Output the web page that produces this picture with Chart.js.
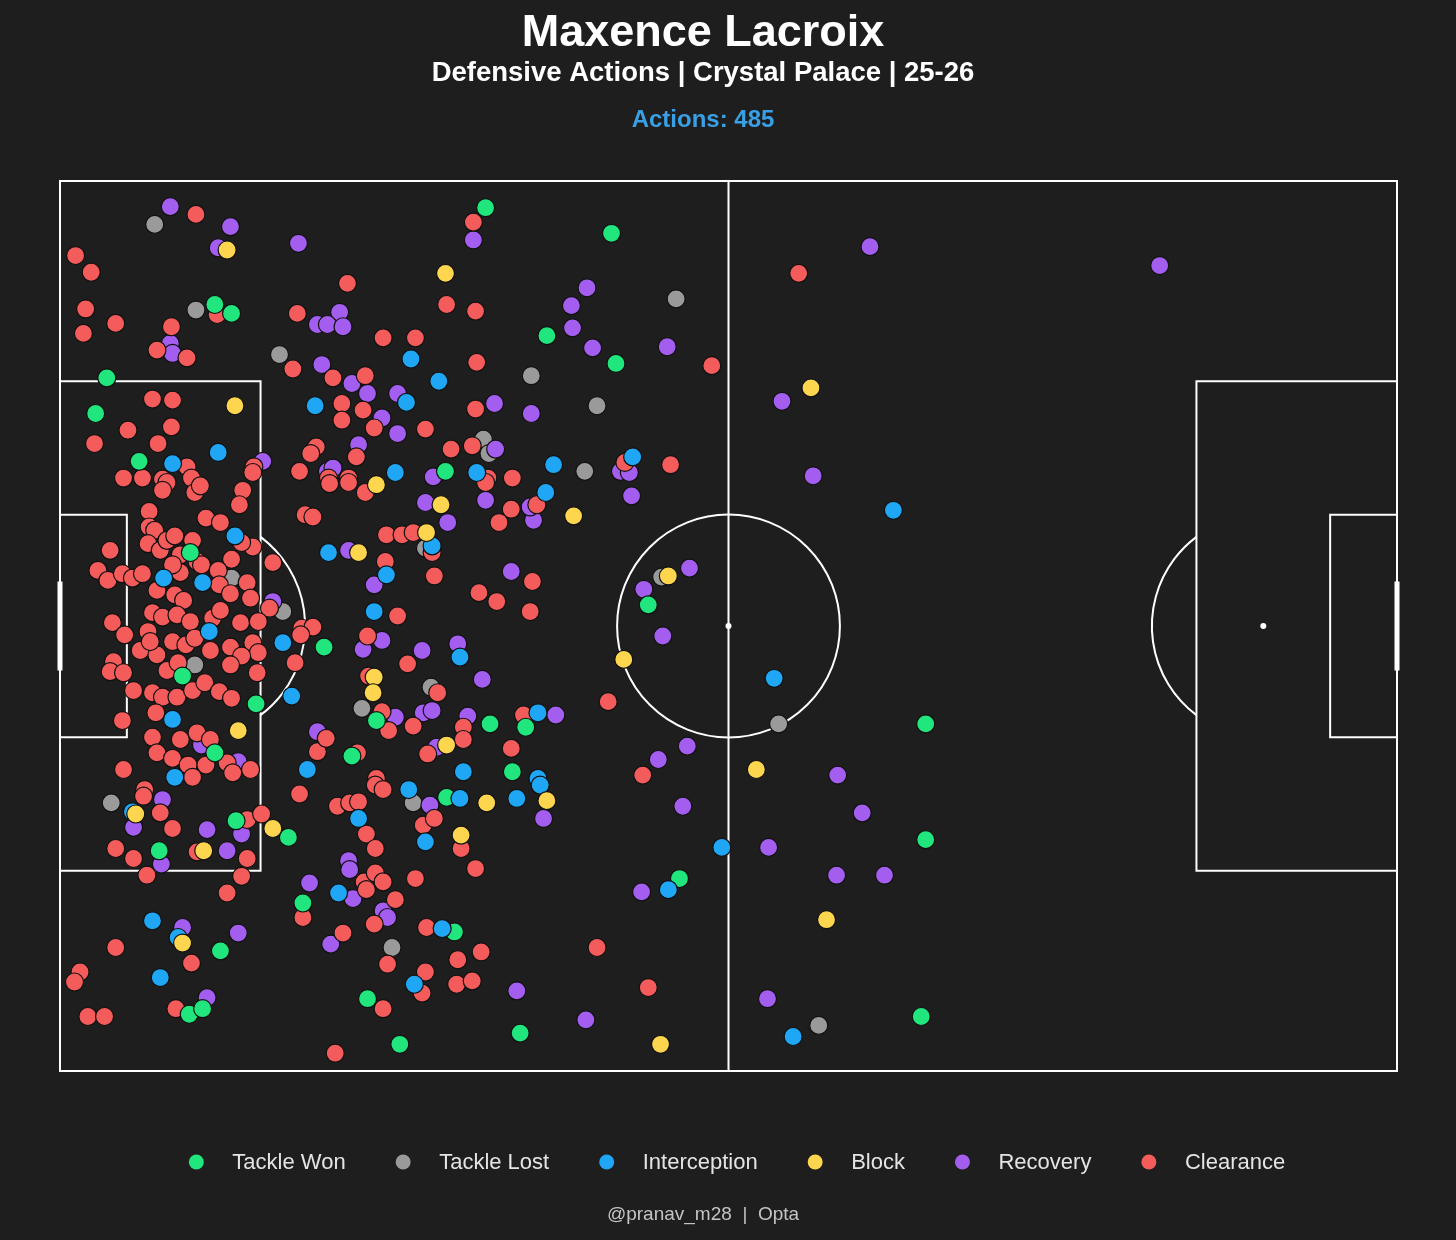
<!DOCTYPE html>
<html lang="en">
  <head>
    <meta charset="UTF-8" />
    <script src="https://cdn.jsdelivr.net/npm/chart.js"></script>
    <title>Maxence Lacroix - Defensive Actions</title>
    <style>
      body { margin: 0; background: #1e1e1e; }
      #pitch { display: block; }
    </style>
  </head>
  <body>
    <canvas id="pitch" width="1456" height="1240"></canvas>

    <script>
      // pitch is 120 x 80 (statsbomb style), y runs top -> bottom
      const tackleWon = [
        [13.9,11.1],[15.4,11.9],[4.2,17.7],[3.2,20.9],[7.1,25.2],[38.2,2.4],[49.5,4.7],[43.7,13.9],
        [49.9,16.4],[34.6,26.1],[11.7,33.4],[23.7,41.9],[11.0,44.5],[17.6,47.0],[13.9,51.4],[28.4,48.5],
        [38.6,48.8],[41.8,49.1],[40.6,53.1],[26.2,51.7],[52.8,38.1],[15.8,57.5],[20.5,59.0],[8.9,60.2],
        [21.8,64.9],[14.4,69.2],[11.6,74.9],[12.8,74.4],[27.6,73.5],[30.5,77.6],[34.7,55.4],[35.4,67.5],
        [55.6,62.7],[41.3,76.6],[77.7,48.8],[77.7,59.2],[77.3,75.1]
      ];
      const tackleLost = [
        [8.5,3.9],[12.2,11.6],[19.7,15.6],[55.3,10.6],[42.3,17.5],[48.2,20.2],[38.0,23.2],[38.5,24.5],
        [47.1,26.1],[15.4,35.7],[20.0,38.7],[12.1,43.5],[32.8,33.0],[54.0,35.6],[33.3,45.5],[27.1,47.4],
        [4.6,55.9],[31.7,55.9],[29.8,68.9],[64.5,48.8],[68.1,75.9]
      ];
      const interception = [
        [22.9,20.2],[14.2,24.4],[10.1,25.4],[30.1,26.2],[31.5,16.0],[34.0,18.0],[31.1,19.9],[44.3,25.5],
        [51.4,24.8],[37.4,26.2],[15.7,31.9],[9.3,35.7],[12.8,36.1],[13.4,40.5],[20.0,41.5],[20.8,46.3],
        [10.1,48.4],[10.3,53.6],[22.2,52.9],[43.6,28.0],[33.4,32.8],[24.1,33.4],[29.3,35.4],[28.2,38.7],
        [35.9,42.8],[42.9,47.8],[36.2,53.1],[42.9,53.7],[6.5,56.7],[26.8,57.3],[25.0,64.0],[8.3,66.5],
        [10.6,68.0],[9.0,71.6],[31.3,54.7],[35.9,55.5],[41.0,55.5],[43.1,54.3],[32.8,59.4],[34.3,67.2],
        [31.8,72.2],[54.6,63.7],[59.4,59.9],[74.8,29.6],[64.1,44.7],[65.8,76.9]
      ];
      const block = [
        [15.0,6.2],[34.6,8.3],[15.7,20.2],[28.4,27.3],[34.2,29.1],[46.1,30.1],[32.9,31.6],[26.8,33.4],
        [54.6,35.5],[50.6,43.0],[28.2,44.6],[28.1,46.0],[34.7,50.7],[16.0,49.4],[6.8,56.9],[19.1,58.2],
        [12.9,60.2],[11.0,68.5],[38.3,55.9],[43.7,55.7],[36.0,58.8],[53.9,77.6],[67.4,18.6],[62.5,52.9],
        [68.8,66.4]
      ];
      const recovery = [
        [9.9,2.3],[15.3,4.1],[14.2,6.0],[21.4,5.6],[9.9,14.6],[10.1,15.5],[25.1,11.8],[23.1,12.9],
        [24.0,12.9],[25.4,13.1],[23.5,16.5],[26.2,18.2],[27.6,19.1],[30.3,19.1],[28.9,21.3],[30.3,22.7],
        [26.8,23.7],[18.2,25.2],[24.0,26.1],[24.5,25.8],[37.1,5.3],[47.3,9.6],[45.9,11.2],[46.0,13.2],
        [47.8,15.0],[54.5,14.9],[39.0,20.0],[42.3,20.9],[39.1,24.1],[50.3,26.1],[51.1,26.2],[33.5,26.6],
        [19.1,37.8],[12.7,50.7],[16.0,52.2],[23.1,49.5],[51.3,28.3],[32.8,28.9],[34.8,30.7],[38.2,28.7],
        [42.5,30.5],[42.2,29.3],[25.9,33.2],[28.2,36.3],[40.5,35.1],[28.9,41.3],[27.2,42.1],[32.5,42.2],
        [35.7,41.6],[37.9,44.8],[30.1,48.2],[32.6,47.8],[33.4,47.6],[36.6,48.1],[33.8,50.9],[44.5,48.0],
        [56.5,34.8],[52.4,36.7],[54.1,40.9],[56.3,50.8],[53.7,52.0],[9.2,55.6],[6.6,58.1],[13.2,58.3],
        [16.3,58.7],[9.1,61.4],[15.0,60.2],[22.4,63.1],[25.9,61.1],[26.0,61.9],[26.3,64.5],[29.0,65.6],
        [29.4,66.2],[24.3,68.6],[11.0,67.1],[16.0,67.6],[13.2,73.4],[33.2,56.1],[43.4,57.3],[55.9,56.2],
        [52.2,63.9],[41.0,72.8],[47.2,75.4],[72.7,5.9],[98.7,7.6],[64.8,19.8],[67.6,26.5],[69.8,53.4],
        [72.0,56.8],[63.6,59.9],[69.7,62.4],[74.0,62.4],[63.5,73.5]
      ];
      const clearance = [
        [12.2,3.0],[1.4,6.7],[2.8,8.2],[25.8,9.2],[2.3,11.5],[14.1,12.0],[5.0,12.8],[2.1,13.7],
        [21.3,11.9],[10.0,13.1],[8.7,15.2],[11.4,15.9],[29.0,14.1],[20.9,16.9],[24.5,17.7],[27.4,17.5],
        [8.3,19.6],[10.1,19.7],[25.3,20.0],[27.2,20.6],[25.3,21.5],[28.2,22.2],[6.1,22.4],[10.0,22.1],
        [3.1,23.6],[8.8,23.6],[11.4,25.7],[26.6,24.8],[17.4,25.7],[23.0,23.9],[22.5,24.5],[21.5,26.1],
        [25.9,26.7],[24.1,26.7],[5.7,26.7],[7.4,26.7],[11.8,26.7],[9.2,26.8],
        [37.1,3.7],[34.7,11.1],[37.3,11.7],[58.5,16.6],[31.9,14.1],[37.4,16.3],[37.3,20.5],[32.8,22.3],
        [37.0,23.8],[35.1,24.1],[50.7,25.3],[54.8,25.5],[40.6,26.7],[38.4,26.7],
        [9.6,27.1],[9.2,27.8],[12.1,28.0],[12.6,27.4],[17.3,26.2],[16.4,27.8],[16.1,29.1],[8.0,29.7],
        [8.0,31.1],[8.5,31.4],[7.9,32.6],[9.0,33.2],[9.6,32.3],[10.3,31.9],[11.9,32.3],[10.8,33.6],
        [12.3,34.2],[12.7,34.5],[13.1,30.3],[14.4,30.7],[17.3,32.9],[16.3,32.5],[15.4,34.0],[19.1,34.3],
        [22.0,30.0],[22.7,30.2],[4.5,33.2],[3.4,35.0],[4.3,35.9],[5.6,35.3],[6.5,35.7],[7.4,35.3],
        [10.8,35.2],[10.1,34.5],[14.2,35.0],[14.3,36.3],[16.8,36.1],[15.3,37.1],[17.1,37.5],[18.8,38.4],
        [8.7,36.8],[10.3,37.2],[11.1,37.7],[8.3,38.8],[9.2,39.2],[10.5,39.0],[11.7,39.6],[13.7,39.3],
        [14.4,38.6],[16.2,39.7],[17.8,39.6],[4.7,39.7],[21.7,40.2],[22.7,40.1],
        [5.8,40.8],[7.9,40.5],[7.2,42.2],[8.7,42.6],[8.1,41.4],[10.1,41.4],[11.3,41.7],[12.1,41.1],
        [13.5,42.2],[15.3,41.9],[17.3,41.5],[17.8,42.4],[16.3,42.7],[15.3,43.5],[17.7,44.2],[21.6,40.8],
        [21.1,43.3],[9.6,44.0],[10.6,43.3],[4.8,43.2],[4.5,44.1],[5.7,44.2],[6.6,45.8],[8.3,46.0],
        [9.2,46.4],[10.5,46.4],[11.9,45.8],[13.0,45.1],[14.3,45.9],[15.4,46.5],[5.6,48.5],[8.6,47.8],
        [8.3,50.0],[10.8,50.2],[12.3,49.6],[13.5,50.2],[8.7,51.4],[10.1,51.9],[11.5,52.5],[13.1,52.5],
        [15.0,52.3],[17.1,52.9],[15.5,53.2],[5.7,52.9],[11.9,53.6],[7.6,54.7],[23.1,51.3],[23.9,50.1],
        [24.2,27.2],[25.9,27.1],[27.4,28.0],[38.2,27.1],[40.5,29.5],[39.4,30.7],[42.8,29.1],
        [29.3,31.8],[30.7,31.8],[31.7,31.6],[33.4,33.4],[29.2,34.2],[33.6,35.5],[30.3,39.1],[42.4,36.0],
        [37.6,37.0],[39.2,37.8],[42.2,38.7],[27.6,40.9],[31.2,43.4],[27.7,44.5],[33.9,46.0],[28.9,47.7],
        [29.5,49.4],[31.7,49.0],[36.2,49.1],[36.2,50.2],[33.0,51.5],[41.6,48.0],[40.5,51.0],[28.4,53.7],
        [26.7,51.4],[49.2,46.8],[52.3,53.4],
        [7.5,55.3],[9.0,56.8],[10.1,58.2],[16.8,57.4],[18.1,56.9],[5.0,60.0],[6.6,60.9],[7.8,62.4],
        [12.3,60.3],[16.8,60.9],[16.3,62.5],[15.0,64.0],[21.5,55.1],[24.9,56.2],[26.0,55.9],[26.8,55.8],
        [28.3,54.3],[29.0,54.7],[27.5,58.7],[28.3,60.0],[21.8,66.2],[27.3,63.0],[28.3,62.2],[29.0,63.0],
        [27.5,63.7],[30.1,64.6],[28.2,66.8],[25.4,67.6],[29.4,70.4],[5.0,68.9],[11.8,70.3],[1.8,71.1],
        [1.3,72.0],[10.4,74.4],[2.5,75.1],[4.0,75.1],[29.0,74.4],[24.7,78.4],
        [32.6,57.9],[33.6,57.3],[36.0,60.0],[37.3,61.8],[31.9,62.7],[32.9,67.1],[37.8,69.3],[35.7,70.0],
        [32.8,71.1],[32.5,73.0],[35.6,72.2],[37.0,71.9],[48.2,68.9],[52.8,72.5],
        [66.3,8.3]
      ];

      const actionLabels = ["Tackle Won", "Tackle Lost", "Interception", "Block", "Recovery", "Clearance"];
      const actionColors = ["#21e57d", "#9a9a9a", "#1fa7f5", "#fdd54e", "#a35ef0", "#f45b5b"];
      const actionPoints = [tackleWon, tackleLost, interception, block, recovery, clearance];
      // lower order is drawn on top: yellow over blue over green over red over purple over grey
      const drawOrder = [3, 6, 2, 1, 5, 4];

      const titleText = "Maxence Lacroix";
      const subtitleText = "Defensive Actions | Crystal Palace | 25-26";
      const countText = "Actions: 485";
      const creditText = "@pranav_m28  |  Opta";

      const FONT = "'Liberation Sans', Arial, sans-serif";

      const pitchLines = {
        id: "pitchLines",
        beforeDatasetsDraw(chart) {
          const { ctx, scales } = chart;
          const px = (v) => scales.x.getPixelForValue(v);
          const py = (v) => scales.y.getPixelForValue(v);
          const unit = px(10) - px(0);

          ctx.save();
          ctx.strokeStyle = "#ffffff";
          ctx.fillStyle = "#ffffff";
          ctx.lineWidth = 2;

          const box = (x0, y0, x1, y1) => {
            ctx.strokeRect(px(x0), py(y0), px(x1) - px(x0), py(y1) - py(y0));
          };
          box(0, 0, 120, 80);
          box(0, 18, 18, 62);
          box(102, 18, 120, 62);
          box(0, 30, 6, 50);
          box(114, 30, 120, 50);

          ctx.beginPath();
          ctx.moveTo(px(60), py(0));
          ctx.lineTo(px(60), py(80));
          ctx.stroke();

          ctx.beginPath();
          ctx.arc(px(60), py(40), unit, 0, Math.PI * 2);
          ctx.stroke();

          // penalty arcs, only the part outside the box
          const a = Math.acos(6 / 10);
          ctx.beginPath();
          ctx.arc(px(12), py(40), unit, -a, a);
          ctx.stroke();
          ctx.beginPath();
          ctx.arc(px(108), py(40), unit, Math.PI - a, Math.PI + a);
          ctx.stroke();

          [[60, 40], [12, 40], [108, 40]].forEach(([sx, sy]) => {
            ctx.beginPath();
            ctx.arc(px(sx), py(sy), 3, 0, Math.PI * 2);
            ctx.fill();
          });

          // goals
          ctx.lineWidth = 5;
          [0, 120].forEach((gx) => {
            ctx.beginPath();
            ctx.moveTo(px(gx), py(36));
            ctx.lineTo(px(gx), py(44));
            ctx.stroke();
          });
          ctx.restore();
        },
      };

      const textLayer = {
        id: "textLayer",
        afterDraw(chart) {
          const ctx = chart.ctx;
          const cx = 703;
          ctx.save();
          ctx.textAlign = "center";
          ctx.textBaseline = "middle";

          ctx.fillStyle = "#ffffff";
          ctx.font = "bold 45px " + FONT;
          ctx.fillText(titleText, cx, 34);
          ctx.font = "bold 27.5px " + FONT;
          ctx.fillText(subtitleText, cx, 73);

          ctx.fillStyle = "#3aa0e6";
          ctx.font = "bold 24px " + FONT;
          ctx.fillText(countText, cx, 120);

          ctx.fillStyle = "#c4c4c4";
          ctx.font = "19px " + FONT;
          ctx.fillText(creditText, cx, 1215);

          // legend row
          ctx.font = "22px " + FONT;
          ctx.textAlign = "left";
          const widths = actionLabels.map((t) => ctx.measureText(t).width);
          const total = 7.5 + widths.reduce((s, w) => s + 36 + w, 0) + 57.5 * (actionLabels.length - 1);
          let x = 737 - total / 2 + 7.5;
          actionLabels.forEach((label, i) => {
            ctx.fillStyle = actionColors[i];
            ctx.beginPath();
            ctx.arc(x, 1162, 7.5, 0, Math.PI * 2);
            ctx.fill();
            ctx.fillStyle = "#e4e4e4";
            ctx.fillText(label, x + 36, 1163);
            x += 36 + widths[i] + 57.5;
          });
          ctx.restore();
        },
      };

      new Chart(document.getElementById("pitch"), {
        type: "scatter",
        data: {
          datasets: actionLabels.map((label, i) => ({
            label: label,
            data: actionPoints[i].map(([x, y]) => ({ x: x, y: y })),
            backgroundColor: actionColors[i],
            borderColor: "#111111",
            borderWidth: 1.2,
            pointRadius: 9,
            pointHoverRadius: 9,
            order: drawOrder[i],
            clip: false,
          })),
        },
        options: {
          responsive: false,
          animation: false,
          events: [],
          layout: {
            padding: { left: 60, right: 59, top: 181, bottom: 169 },
          },
          scales: {
            x: { type: "linear", min: 0, max: 120, display: false },
            y: { type: "linear", min: 0, max: 80, reverse: true, display: false },
          },
          plugins: {
            legend: { display: false },
            tooltip: { enabled: false },
          },
        },
        plugins: [pitchLines, textLayer],
      });
    </script>
  </body>
</html>
